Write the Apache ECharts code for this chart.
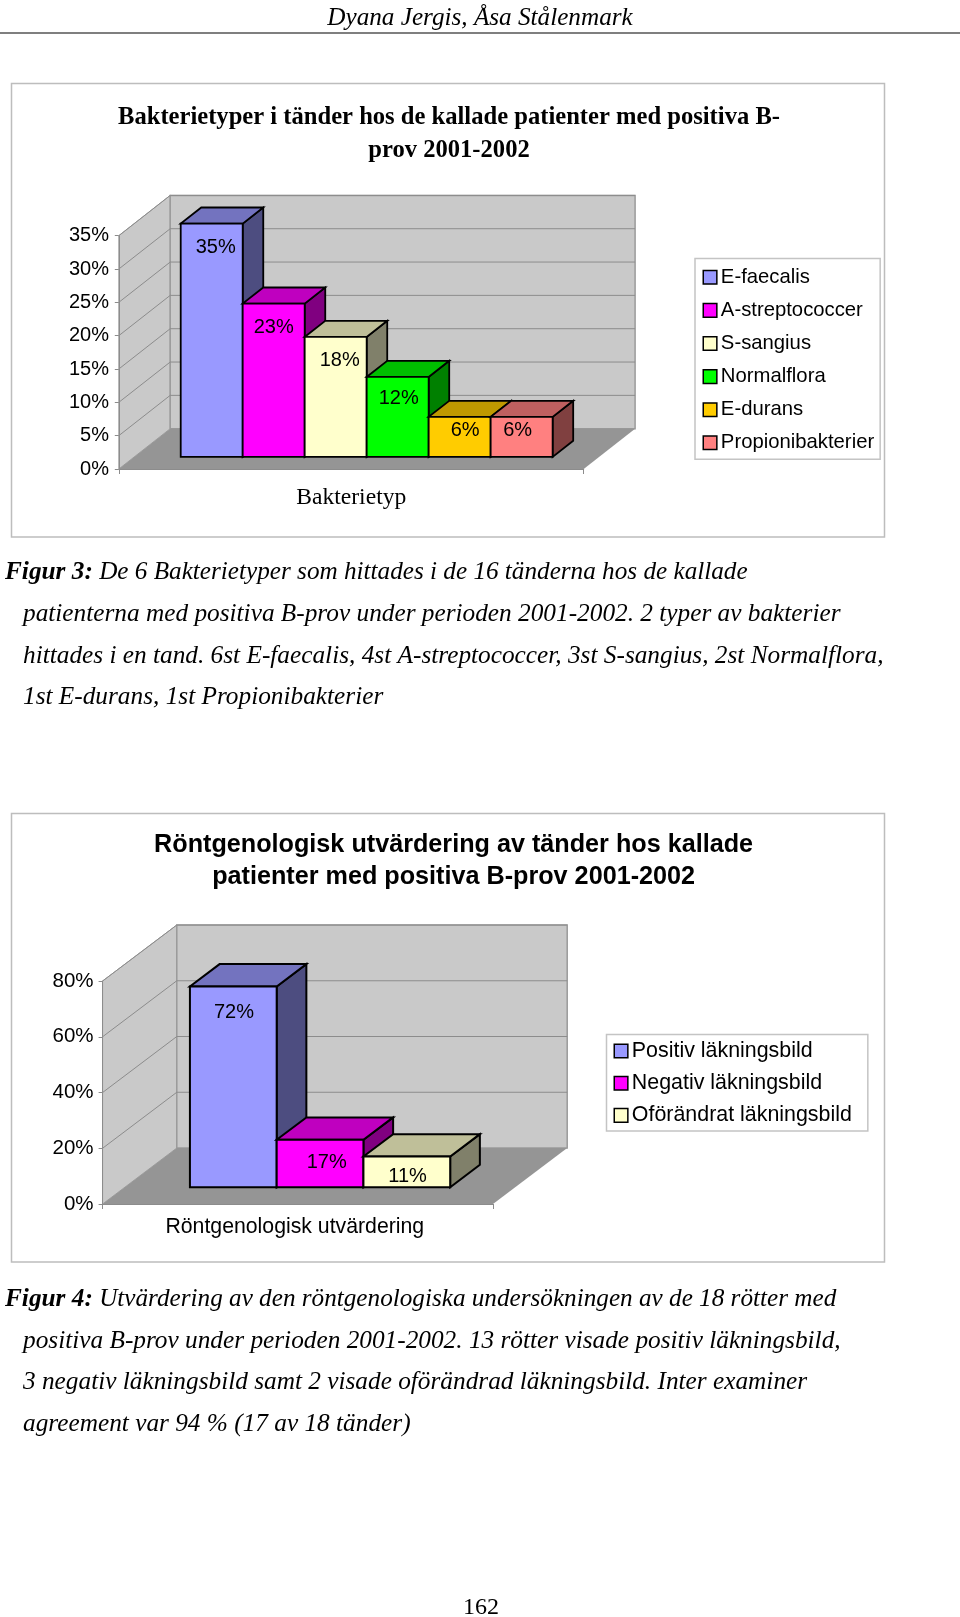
<!DOCTYPE html>
<html><head><meta charset="utf-8">
<style>html,body{margin:0;padding:0;background:#fff}#c{width:960px;height:1617px}</style>
<script src="https://cdn.jsdelivr.net/npm/echarts@6/dist/echarts.min.js"></script>
</head><body><div id="c"></div>
<script>
// ---- data ----
const names1 = ['E-faecalis','A-streptococcer','S-sangius','Normalflora','E-durans','Propionibakterier'];
const values1 = [35,23,18,12,6,6];
const category1 = ['Bakterietyp'];
const yTicks1 = [0,5,10,15,20,25,30,35];
const names2 = ['Positiv läkningsbild','Negativ läkningsbild','Oförändrat läkningsbild'];
const values2 = [72,17,11];
const category2 = ['Röntgenologisk utvärdering'];
const yTicks2 = [0,20,40,60,80];
const title1 = 'Bakterietyper i tänder hos de kallade patienter med positiva B-\nprov 2001-2002';
const title2 = 'Röntgenologisk utvärdering av tänder hos kallade\npatienter med positiva B-prov 2001-2002';
const headerText = 'Dyana Jergis, Åsa Stålenmark';
const pageNumber = '162';
const caption1 = ['De 6 Bakterietyper som hittades i de 16 tänderna hos de kallade',
 'patienterna med positiva B-prov under perioden 2001-2002. 2 typer av bakterier',
 'hittades i en tand. 6st E-faecalis, 4st A-streptococcer, 3st S-sangius, 2st Normalflora,',
 '1st E-durans, 1st Propionibakterier'];
const caption2 = ['Utvärdering av den röntgenologiska undersökningen av de 18 rötter med',
 'positiva B-prov under perioden 2001-2002. 13 rötter visade positiv läkningsbild,',
 '3 negativ läkningsbild samt 2 visade oförändrad läkningsbild. Inter examiner',
 'agreement var 94 % (17 av 18 tänder)'];

// ---- styling / layout (not data) ----
const SANS='"Liberation Sans"', SERIF='"Liberation Serif"';
const faces1=[['#9999FF','#7373BF','#4D4D80'],['#FF00FF','#BF00BF','#800080'],['#FFFFCC','#BFBF99','#80806A'],['#00FF00','#00BF00','#008000'],['#FFCC00','#BF9900','#806600'],['#FF8080','#BF6060','#804040']];
const labelNudge1=[[4,23.5],[0,24],[4,23.4],[1,21.8],[5.5,14],[-4,14]];
const labelNudge2=[[0.6,25.7],[6.7,22.5],[0.8,20.3]];
const geo1={left:118.8,top:235.7,width:464.9,height:233.3,dx:51.4,dy:-40.3,font:20,edge:1.8};
const geo2={left:102.6,top:981,width:390.4,height:223,dx:74.2,dy:-56,font:20,edge:2};

function wallsRender(geo,ticks){
  return function(params,api){
    const kids=[];
    const p=v=>api.coord([0,v]);
    const band=api.size([1,0])[0];
    const x0=p(0)[0]-band/2, x1=x0+band, y0=p(0)[1], yT=p(ticks[ticks.length-1])[1];
    const dx=geo.dx, dy=geo.dy;
    const wall='#C9C9C9', line='#8C8C8C';
    kids.push({type:'polygon',shape:{points:[[x0,y0],[x0,yT],[x0+dx,yT+dy],[x0+dx,y0+dy]]},style:{fill:wall,stroke:'#A0A0A0',lineWidth:1}});
    kids.push({type:'polygon',shape:{points:[[x0+dx,yT+dy],[x1+dx,yT+dy],[x1+dx,y0+dy],[x0+dx,y0+dy]]},style:{fill:wall,stroke:'#9A9A9A',lineWidth:1.5}});
    ticks.forEach(function(t){
      const y=p(t)[1];
      if(t>0) kids.push({type:'polyline',shape:{points:[[x0,y],[x0+dx,y+dy],[x1+dx,y+dy]]},style:{fill:'none',stroke:line,lineWidth:1}});
    });
    kids.push({type:'polygon',shape:{points:[[x0,y0],[x1,y0],[x1+dx,y0+dy],[x0+dx,y0+dy]]},style:{fill:'#959595'}});
    return {type:'group',children:kids};
  };
}
function barRender(geo,i,count,face,nudge){
  return function(params,api){
    const v=api.value(1);
    const base=api.coord([0,0]), top=api.coord([0,v]);
    const band=api.size([1,0])[0];
    const w=band/(count+1.5);
    const ox=geo.dx*0.3, oy=geo.dy*0.3, bx=geo.dx*0.4, by=geo.dy*0.4;
    const x=base[0]-band/2+w*0.75+w*i+ox;
    const yb=base[1]+oy, yt=top[1]+oy;
    const st=c=>({fill:c,stroke:'#000',lineWidth:geo.edge,lineJoin:'miter'});
    return {type:'group',children:[
      {type:'polygon',shape:{points:[[x+w,yb],[x+w,yt],[x+w+bx,yt+by],[x+w+bx,yb+by]]},style:st(face[2])},
      {type:'polygon',shape:{points:[[x,yt],[x+w,yt],[x+w+bx,yt+by],[x+bx,yt+by]]},style:st(face[1])},
      {type:'polygon',shape:{points:[[x,yb],[x+w,yb],[x+w,yt],[x,yt]]},style:st(face[0])},
      {type:'text',z2:10,x:x+w/2+nudge[0],y:yt+nudge[1],style:{text:Math.round(v)+'%',fill:'#000',font:geo.font+'px '+SANS,align:'center',verticalAlign:'middle'}}
    ]};
  };
}
function makeSeries(gi,geo,names,values,ticks,nudges){
  const out=[{type:'custom',name:'__walls'+gi,xAxisIndex:gi,yAxisIndex:gi,silent:true,z:1,clip:false,
    renderItem:wallsRender(geo,ticks),data:[[0,ticks[ticks.length-1]]],encode:{x:0,y:1},tooltip:{show:false}}];
  names.forEach(function(n,i){
    out.push({type:'custom',name:n,xAxisIndex:gi,yAxisIndex:gi,silent:true,z:2+i,clip:false,
      itemStyle:{color:faces1[i][0],borderColor:'#000',borderWidth:1.5},
      renderItem:barRender(geo,i,names.length,faces1[i],nudges[i]),data:[[0,values[i]]],encode:{x:0,y:1}});
  });
  return out;
}
function axisX(gi,cat,font,family,margin,pad){
  return {type:'category',gridIndex:gi,data:cat,boundaryGap:true,z:5,
    axisLine:{show:true,lineStyle:{color:'#8C8C8C',width:1}},
    axisTick:{show:true,length:5,alignWithLabel:false,lineStyle:{color:'#8C8C8C'}},
    axisLabel:{color:'#000',fontFamily:family,fontSize:font,margin:margin,padding:pad}};
}
function axisY(gi,ticks,font,margin,pad){
  return {type:'value',gridIndex:gi,min:0,max:ticks[ticks.length-1],interval:ticks[1]-ticks[0],z:5,
    axisLine:{show:true,lineStyle:{color:'#8C8C8C',width:1}},
    axisTick:{show:true,length:4,lineStyle:{color:'#8C8C8C'}},
    splitLine:{show:false},
    axisLabel:{color:'#000',fontFamily:SANS,fontSize:font,margin:margin,padding:[pad,0,0,0],formatter:'{value}%'}};
}
function legendOf(names,left,top,font,gap,pad,textPad){
  return {orient:'vertical',left:left,top:top,itemWidth:13.6,itemHeight:13.6,itemGap:gap,padding:pad,
    backgroundColor:'#fff',borderColor:'#C4C4C4',borderWidth:1.5,borderRadius:0,
    data:names.map(function(n,i){
      return {name:n,icon:'rect',itemStyle:{color:faces1[i][0],borderColor:'#000',borderWidth:1.5}};}),
    textStyle:{color:'#000',fontFamily:SANS,fontSize:font,lineHeight:font,padding:[0,0,textPad,-1]},
    selectedMode:false};
}
function frame(x,y,w,h){return {type:'rect',z:-1,shape:{x:x,y:y,width:w,height:h},style:{fill:'#fff',stroke:'#BDBDBD',lineWidth:1.5}};}
function line(text,x,y,size){return {type:'text',x:x,y:y,style:{text:text,font:'italic '+size+'px '+SERIF,fill:'#000',verticalAlign:'middle'}};}
function capLines(fig,lines,ys){
  const SIZE=25.3;
  return lines.map(function(t,i){
    if(i===0) return {type:'text',x:5,y:ys[0],style:{text:'{b|'+fig+'}{i| '+t+'}',fill:'#000',verticalAlign:'middle',
      rich:{b:{font:'italic bold '+SIZE+'px '+SERIF,fill:'#000'},i:{font:'italic '+(SIZE-0.1)+'px '+SERIF,fill:'#000'}}}};
    return line(t,23,ys[i],SIZE);
  });
}
const chart=echarts.init(document.getElementById('c'),null,{width:960,height:1617});
chart.setOption({
  animation:false,backgroundColor:'#fff',
  title:[
    {text:title1,left:449,top:101,textAlign:'center',textStyle:{fontFamily:SERIF,fontWeight:'bold',fontSize:24.6,lineHeight:33,color:'#000'},padding:0},
    {text:title2,left:453.6,top:829,textAlign:'center',textStyle:{fontFamily:SANS,fontWeight:'bold',fontSize:25.2,lineHeight:32,color:'#000'},padding:0}
  ],
  grid:[
    {left:geo1.left,top:geo1.top,width:geo1.width,height:geo1.height,containLabel:false},
    {left:geo2.left,top:geo2.top,width:geo2.width,height:geo2.height,containLabel:false}
  ],
  xAxis:[axisX(0,category1,23.6,SERIF,17,0),axisX(1,category2,21.25,SANS,13,[0,6,0,0])],
  yAxis:[axisY(0,yTicks1,20,9.8,3),axisY(1,yTicks2,20.5,9,4)],
  legend:[legendOf(names1,695,258.5,20.3,4.8,[4.65,6,2.25,7.5],8),legendOf(names2,606.5,1034.5,21.4,6.8,[3.8,16,2.8,7],4)],
  series:makeSeries(0,geo1,names1,values1,yTicks1,labelNudge1).concat(makeSeries(1,geo2,names2,values2,yTicks2,labelNudge2)),
  graphic:{elements:[
    frame(11.5,83.5,873,453.5),
    frame(11.5,813.5,873,448.5),
    {type:'text',x:480,y:18,style:{text:headerText,font:'italic 25.2px '+SERIF,fill:'#000',align:'center',verticalAlign:'middle'}},
    {type:'rect',shape:{x:0,y:32.5,width:960,height:1},style:{fill:'#000'}},
    {type:'text',x:481,y:1608,style:{text:pageNumber,font:'24px '+SERIF,fill:'#000',align:'center',verticalAlign:'middle'}}
  ].concat(capLines('Figur 3:',caption1,[572,614,656,697]),capLines('Figur 4:',caption2,[1299,1341,1382.5,1424]))}
});
</script></body></html>
